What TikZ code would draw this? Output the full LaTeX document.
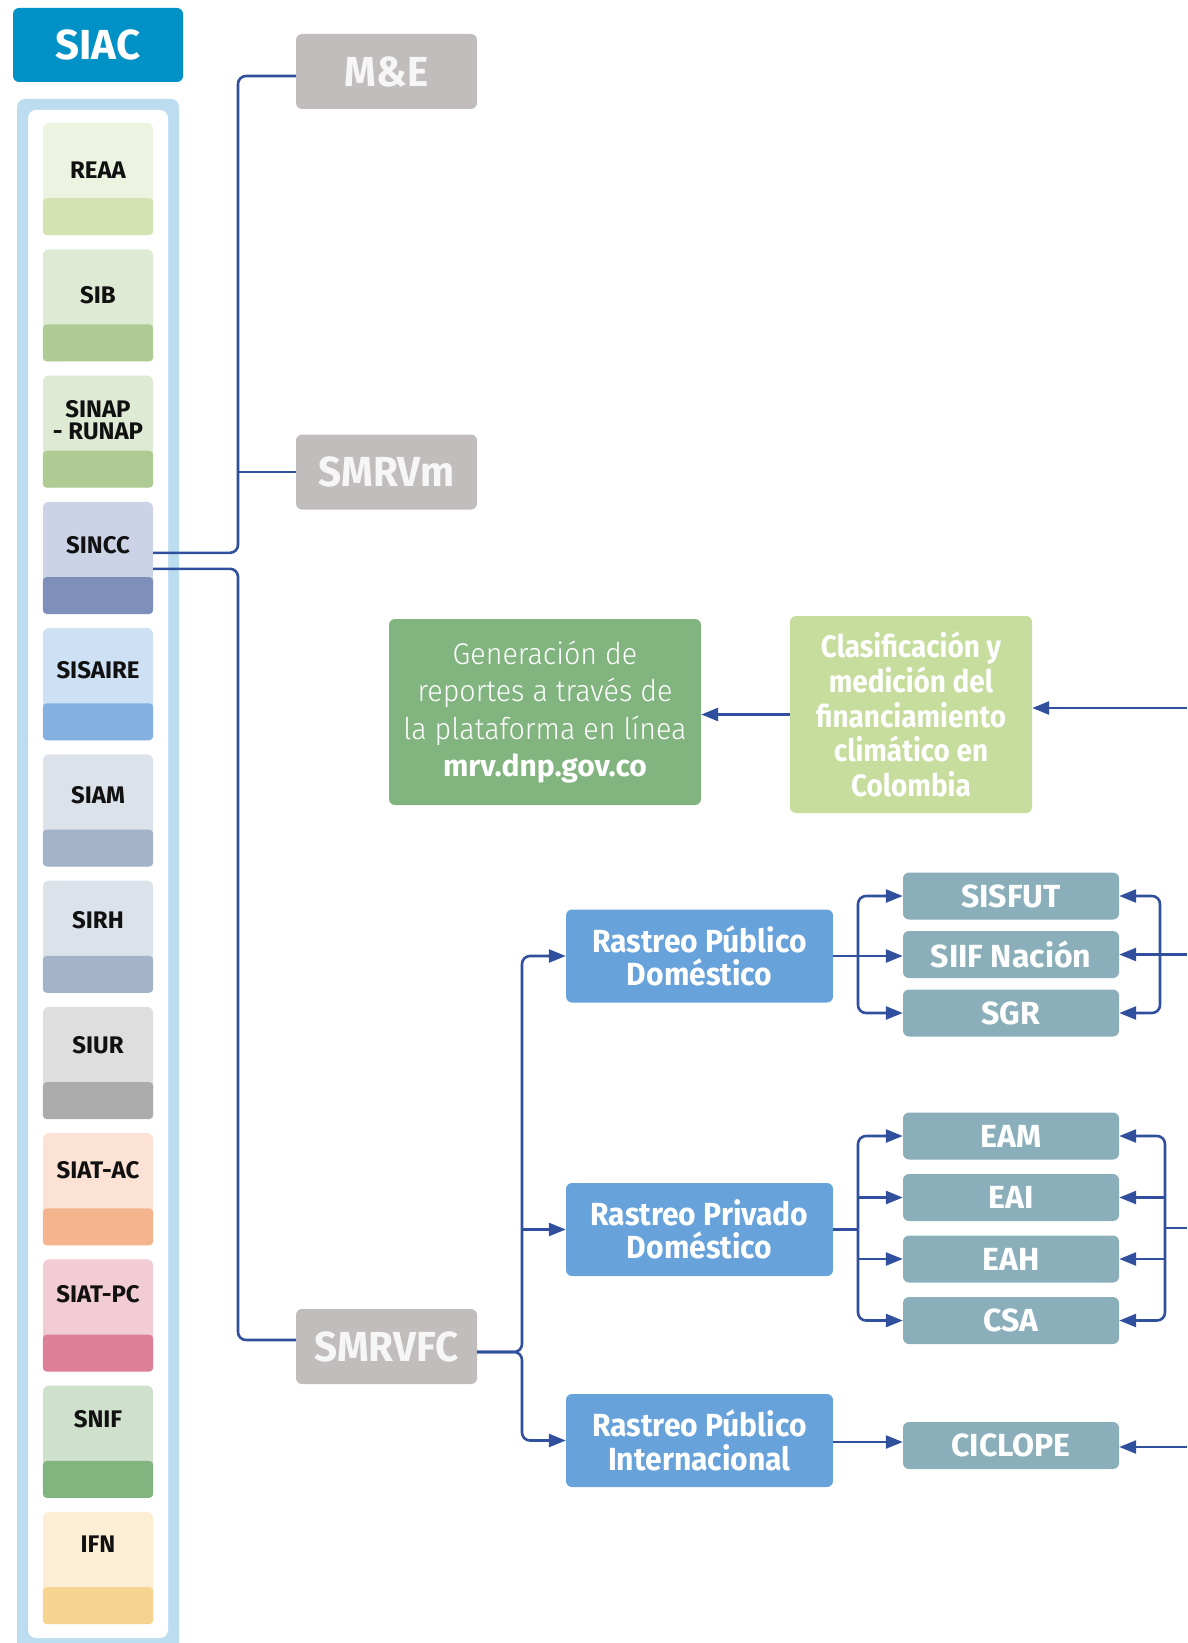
\documentclass[tikz,border=0pt]{standalone}
\usepackage{fontspec}
\setmainfont{Fira Sans}
\newfontfamily\lightfont{Fira Sans Light}[FakeStretch=0.955]
\newfontfamily\condfont{Fira Sans}[FakeStretch=0.94]
\newfontfamily\grayfont{Fira Sans}[FakeStretch=0.96]
\newfontfamily\clasfont{Fira Sans}[FakeStretch=0.9]
\usetikzlibrary{arrows.meta}

% palette
\definecolor{siacblue}{HTML}{0091C7}
\definecolor{framebl}{HTML}{BCDDF0}
\definecolor{grayBox}{HTML}{C1BDBC}
\definecolor{grayTxt}{HTML}{F6F6F6}
\definecolor{genGreen}{HTML}{82B47F}
\definecolor{clasGreen}{HTML}{C6DD9D}
\definecolor{rastreo}{HTML}{68A2DA}
\definecolor{teal}{HTML}{8AAFBA}
\definecolor{linkc}{HTML}{30509E}
\definecolor{cardTxt}{HTML}{111111}
% card colours: light top / darker band
\definecolor{reaaL}{HTML}{ECF3E1}\definecolor{reaaB}{HTML}{D3E3B1}
\definecolor{sibL}{HTML}{DEEAD4}\definecolor{sibB}{HTML}{AFCB94}
\definecolor{sinccL}{HTML}{CCD3E7}\definecolor{sinccB}{HTML}{7F8FBC}
\definecolor{sisaL}{HTML}{CDE0F4}\definecolor{sisaB}{HTML}{83B2E1}
\definecolor{siamL}{HTML}{DBE2EA}\definecolor{siamB}{HTML}{A4B4C8}
\definecolor{siurL}{HTML}{DEDEDE}\definecolor{siurB}{HTML}{ABABAB}
\definecolor{acL}{HTML}{FCE2D4}\definecolor{acB}{HTML}{F4B58E}
\definecolor{pcL}{HTML}{F2CCD5}\definecolor{pcB}{HTML}{DD7F96}
\definecolor{snifL}{HTML}{CFE1CC}\definecolor{snifB}{HTML}{82B480}
\definecolor{ifnL}{HTML}{FCEED5}\definecolor{ifnB}{HTML}{F6D48F}

\begin{document}
\begin{tikzpicture}[x=1pt,y=-1pt,
  conn/.style={draw=linkc, line width=2.6pt},
  arr/.style={-{Triangle[length=17pt,width=13pt]}},
  rc/.style={rounded corners=8pt},
  box/.style={rounded corners=6pt, inner sep=0pt, align=center},
  graybox/.style={box, fill=grayBox, text=grayTxt, minimum width=181pt, minimum height=75pt,
    font=\grayfont\bfseries\fontsize{42}{44}\selectfont},
  bluebox/.style={box, fill=rastreo, text=white, minimum width=267pt, minimum height=93pt,
    font=\condfont\bfseries\fontsize{32}{33.5}\selectfont},
  tealbox/.style={box, fill=teal, text=white, minimum width=216pt, minimum height=47pt,
    font=\bfseries\fontsize{32}{33}\selectfont},
  card/.style={rounded corners=6pt, inner sep=0pt, minimum width=110pt, minimum height=112pt},
  cardlabel/.style={inner sep=0pt, align=center, text=cardTxt,
    font=\bfseries\fontsize{24}{22}\selectfont},
]
\useasboundingbox (0,0) rectangle (1187,1643);

% SIAC header
\node[box, fill=siacblue, text=white, minimum width=170pt, minimum height=74pt,
  font=\bfseries\fontsize{42}{44}\selectfont] (siac) at (98,45) {SIAC};

% framed column of subsystems
\fill[framebl, rounded corners=8pt] (17,99) rectangle (179,1660);
\fill[white, rounded corners=8pt] (28,110) rectangle (168,1638);

\foreach \i/\lab/\lc/\bc in {
  0/REAA/reaaL/reaaB,
  1/SIB/sibL/sibB,
  2/{SINAP\\- RUNAP}/sibL/sibB,
  3/SINCC/sinccL/sinccB,
  4/SISAIRE/sisaL/sisaB,
  5/SIAM/siamL/siamB,
  6/SIRH/siamL/siamB,
  7/SIUR/siurL/siurB,
  8/SIAT-AC/acL/acB,
  9/SIAT-PC/pcL/pcB,
  10/SNIF/snifL/snifB,
  11/IFN/ifnL/ifnB}{
  \node[card, fill=\lc] (card\i) at (98,{179+\i*126.27}) {};
  \fill[\bc, rounded corners=4pt] (card\i.south west) rectangle ([yshift=37pt]card\i.south east);
  \node[cardlabel] (lab\i) at (98,{170+\i*124.96}) {\lab};
}

% M&E, SMRVm, SMRVFC
\node[graybox] (me) at (386.5,71.5) {M\&E};
\node[graybox] (smrvm) at (386.5,472) {SMRVm};
\node[graybox] (smrvfc) at (386.5,1346.5) {SMRVFC};

% reporting boxes
\node[box, fill=genGreen, text=white, minimum width=312pt, minimum height=186pt,
  font=\lightfont\fontsize{30}{37.4}\selectfont] (gen) at (545,712)
  {Generación de\\reportes a través de\\la plataforma en línea\\{\normalfont\bfseries mrv.dnp.gov.co}};
\node[box, fill=clasGreen, text=white, minimum width=242pt, minimum height=197pt,
  font=\clasfont\bfseries\fontsize{31}{34.7}\selectfont] (clas) at (911,714.5)
  {Clasificación y\\medición del\\financiamiento\\climático en\\Colombia};

% tracking boxes
\node[bluebox] (rpd) at (699.5,956) {Rastreo Público\\Doméstico};
\node[bluebox] (rpv) at (699.5,1229.5) {Rastreo Privado\\Doméstico};
\node[bluebox] (rpi) at (699.5,1440.5) {Rastreo Público\\Internacional};

% data sources
\node[tealbox] (sisfut) at (1011,896) {SISFUT};
\node[tealbox] (siif) at (1011,954.5) {SIIF Nación};
\node[tealbox] (sgr) at (1011,1013) {SGR};
\node[tealbox] (eam) at (1011,1136) {EAM};
\node[tealbox] (eai) at (1011,1197.5) {EAI};
\node[tealbox] (eah) at (1011,1259) {EAH};
\node[tealbox] (csa) at (1011,1320.5) {CSA};
\node[tealbox] (ciclope) at (1011,1445.5) {CICLOPE};

% bus lines
\coordinate (busA) at (238,0);
\coordinate (busB) at (522,0);
\coordinate (l1) at (858,0);
\coordinate (r1) at (1160,0);
\coordinate (l2) at (858,0);
\coordinate (r2) at (1165,0);
\coordinate (inClas) at (1187,708);
\coordinate (inSiif) at (1187,954.5);
\coordinate (inPriv) at (1187,1228);
\coordinate (inCic) at (1187,1447);

% SINCC to the three systems
\draw[conn, rc] ([yshift=5pt]card3.east) -| (busA |- 0,76) -- ([yshift=-4.5pt]me.west);
\draw[conn] (busA |- smrvm.west) -- (smrvm.west);
\draw[conn, rc] ([yshift=-11pt]card3.east) -| (busA |- 0,1340) -- ([yshift=6.5pt]smrvfc.west);

% SMRVFC to the tracking boxes
\draw[conn, rc, arr] ([yshift=-5.5pt]smrvfc.east) -| (busB |- rpd.west) -- (rpd.west);
\draw[conn, rc, arr] ([yshift=-5.5pt]smrvfc.east) -| (busB |- rpi.west) -- (rpi.west);
\draw[conn, arr] (busB |- rpv.west) -- (rpv.west);

% public domestic group
\draw[conn, arr] (rpd.east) -- (rpd.east -| siif.west);
\draw[conn, rc, arr] (l1 |- rpd.east) |- (sisfut.west);
\draw[conn, rc, arr] (l1 |- rpd.east) |- (sgr.west);
\draw[conn, arr] (inSiif) -- (siif.east);
\draw[conn, rc, arr] (r1 |- siif.east) |- (sisfut.east);
\draw[conn, rc, arr] (r1 |- siif.east) |- (sgr.east);

% private domestic group
\draw[conn] (rpv.east) -- (l2 |- rpv.east);
\draw[conn, rc, arr] (l2 |- rpv.east) |- (eam.west);
\draw[conn, rc, arr] (l2 |- rpv.east) |- (csa.west);
\draw[conn, arr] (l2 |- eai.west) -- (eai.west);
\draw[conn, arr] (l2 |- eah.west) -- (eah.west);
\draw[conn] (inPriv) -- (r2 |- inPriv);
\draw[conn, rc, arr] (r2 |- inPriv) |- (eam.east);
\draw[conn, rc, arr] (r2 |- inPriv) |- (csa.east);
\draw[conn, arr] (r2 |- eai.east) -- (eai.east);
\draw[conn, arr] (r2 |- eah.east) -- (eah.east);

% international
\draw[conn, arr] ([yshift=-1.5pt]rpi.east) -- ([yshift=-1.5pt]rpi.east -| ciclope.west);
\draw[conn, arr] (inCic) -- (inCic -| ciclope.east);

% classification and reporting
\draw[conn, arr] (inClas) -- (inClas -| clas.east);
\draw[conn, arr] (clas.west) -- (clas.west -| gen.east);
\end{tikzpicture}
\end{document}
